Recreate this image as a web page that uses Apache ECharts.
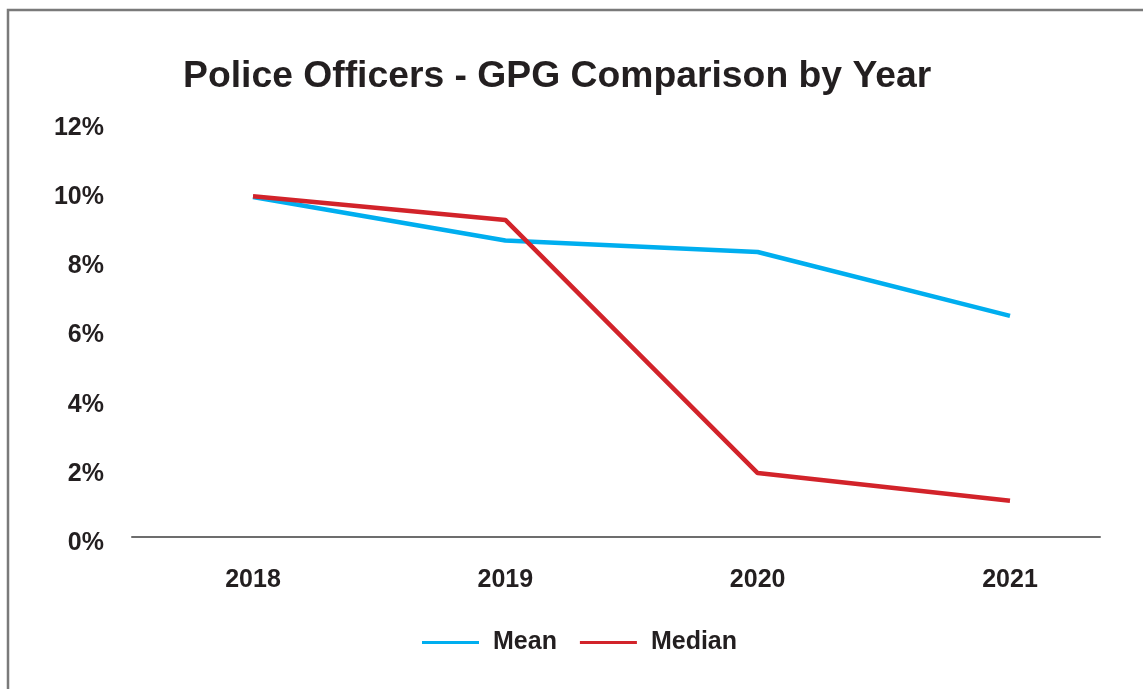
<!DOCTYPE html>
<html>
<head>
<meta charset="utf-8">
<script src="https://cdn.jsdelivr.net/npm/echarts@6/dist/echarts.min.js"></script>
<style>
html,body{margin:0;padding:0;background:#fff;}
#main{width:1143px;height:689px;}
</style>
</head>
<body>
<div id="main"></div>
<script>
var years = ['2018', '2019', '2020', '2021'];
var meanValues = [9.95, 8.68, 8.34, 6.47];
var medianValues = [9.97, 9.28, 1.87, 1.06];
var yTicks = [0, 2, 4, 6, 8, 10, 12];

var FONT = '"Liberation Sans", Arial, Helvetica, sans-serif';
var TXT = '#231f20';

var chart = echarts.init(document.getElementById('main'), null, {renderer: 'canvas'});
chart.setOption({
  backgroundColor: '#fff',
  animation: false,
  graphic: [{
    type: 'rect',
    shape: {x: 8, y: 10, width: 1160, height: 700},
    style: {fill: null, stroke: '#7a7a7a', lineWidth: 2.5},
    silent: true
  }],
  title: {
    text: 'Police Officers - GPG Comparison by Year',
    left: 183,
    top: 58,
    padding: 0,
    textStyle: {fontFamily: FONT, fontWeight: 'bold', fontSize: 37.3, color: TXT}
  },
  legend: {
    data: ['Mean', 'Median'],
    left: 422,
    top: 630,
    padding: 0,
    itemWidth: 57,
    itemHeight: 3,
    itemGap: 23,
    icon: 'rect',
    itemStyle: {borderWidth: 0},
    textStyle: {fontFamily: FONT, fontWeight: 'bold', fontSize: 25, color: TXT, padding: [0, 0, 0, 9]}
  },
  grid: [
    {left: 132, right: 43, top: 127, height: 410},   // axis baseline
    {left: 253, right: 133, top: 127, height: 410},  // data
    {left: 132, right: 43, top: 128, height: 415}    // y labels
  ],
  xAxis: [
    {gridIndex: 0, type: 'value', min: 0, max: 1,
     axisLine: {show: true, lineStyle: {color: '#6d6d6d', width: 2}},
     axisTick: {show: false}, axisLabel: {show: false}, splitLine: {show: false}},
    {gridIndex: 1, type: 'category', data: years, boundaryGap: false,
     axisLine: {show: false}, axisTick: {show: false}, splitLine: {show: false},
     axisLabel: {margin: 31, fontFamily: FONT, fontWeight: 'bold', fontSize: 25, color: TXT}},
    {gridIndex: 2, type: 'value', show: false}
  ],
  yAxis: [
    {gridIndex: 0, type: 'value', show: false, min: 0, max: 12},
    {gridIndex: 1, type: 'value', show: false, min: 0, max: 12},
    {gridIndex: 2, type: 'value', min: 0, max: 12, interval: 2,
     axisLine: {show: false}, axisTick: {show: false}, splitLine: {show: false},
     axisLabel: {margin: 28, fontFamily: FONT, fontWeight: 'bold', fontSize: 25, color: TXT,
       formatter: function (v) { return v + '%'; }}}
  ],
  series: [
    {name: 'Mean', type: 'line', xAxisIndex: 1, yAxisIndex: 1, data: meanValues,
     symbol: 'none', lineStyle: {color: '#00aeef', width: 4.5}, itemStyle: {color: '#00aeef'}, z: 2},
    {name: 'Median', type: 'line', xAxisIndex: 1, yAxisIndex: 1, data: medianValues,
     symbol: 'none', lineStyle: {color: '#d2232a', width: 4.5}, itemStyle: {color: '#d2232a'}, z: 3}
  ]
});
</script>
</body>
</html>
